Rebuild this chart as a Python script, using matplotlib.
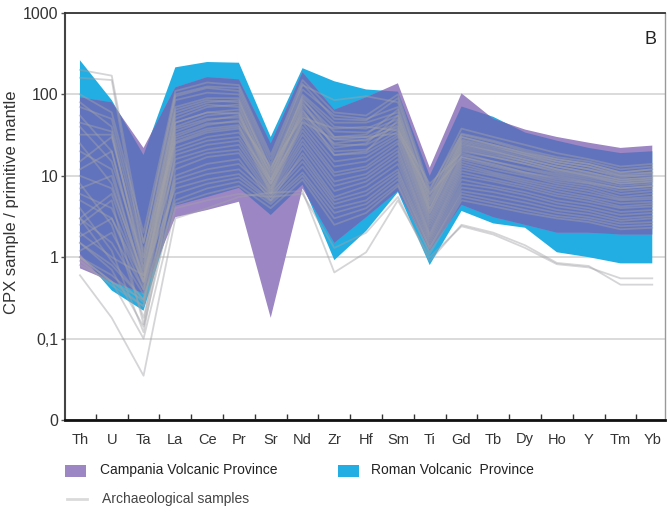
import matplotlib
matplotlib.use("Agg")
import matplotlib.pyplot as plt
from matplotlib.patches import Rectangle, Polygon
from matplotlib.lines import Line2D
from matplotlib.ticker import FixedLocator, NullFormatter

plt.rcParams["font.family"] = ["Liberation Sans", "DejaVu Sans"]

elements = ["Th", "U", "Ta", "La", "Ce", "Pr", "Sr", "Nd", "Zr", "Hf",
            "Sm", "Ti", "Gd", "Tb", "Dy", "Ho", "Y", "Tm", "Yb"]

# envelopes (CPX / primitive mantle)
cvp_upper = [92, 80, 22, 122, 163, 153, 25, 187, 65, 92,
             137, 12.6, 103, 50, 37, 30, 25.5, 22, 23.5]
cvp_lower = [0.73, 0.5, 0.36, 3.1, 3.8, 4.8, 0.18, 7, 1.5, 3.1,
             6.5, 1.2, 4.4, 3.1, 2.5, 2.0, 2.0, 1.9, 1.9]
rvp_upper = [263, 85, 18, 215, 250, 245, 30, 210, 145, 115,
             108, 10, 71, 53, 34, 27, 22, 19, 20]
rvp_lower = [1.1, 0.39, 0.22, 4.3, 5.5, 7.1, 3.3, 7.8, 0.92, 2.1,
             6.3, 0.8, 3.7, 2.6, 2.3, 1.15, 1.0, 0.84, 0.84]

# archaeological samples, one row per sample
arch_samples = [
    [200, 170, 1.5, 95, 120, 110, 14, 130, 85, 95, 80, 6.5, 38, 30, 24, 19, 16, 13, 14],
    [160, 150, 1.0, 85, 105, 100, 12, 115, 55, 50, 70, 5.5, 33, 27, 21, 17, 15, 12, 13],
    [32, 32, 0.8, 70, 90, 90, 11, 100, 45, 45, 60, 5, 30, 24, 19, 16, 14, 11, 12],
    [55, 20, 0.7, 60, 80, 85, 10, 95, 40, 38, 55, 4.5, 28, 23, 18, 15, 13, 10, 11],
    [20, 12, 0.5, 50, 70, 75, 9, 85, 35, 34, 50, 4, 26, 21, 17, 14, 12, 10, 10],
    [10, 7, 0.6, 45, 60, 65, 8.5, 75, 30, 30, 45, 3.8, 24, 20, 16, 13, 11, 9, 9.5],
    [5, 3, 0.4, 40, 55, 60, 8, 70, 28, 27, 42, 3.5, 22, 18, 15, 12, 10, 8.5, 9],
    [3, 1.5, 0.35, 35, 48, 55, 7.5, 62, 24, 24, 38, 3.2, 20, 17, 14, 11, 9.5, 8, 8.5],
    [1.5, 0.8, 0.3, 30, 42, 48, 7, 55, 20, 21, 35, 3, 18, 15, 12, 10, 8.5, 7, 7.5],
    [80, 40, 1.2, 28, 38, 42, 6.5, 50, 18, 19, 32, 2.8, 17, 14, 11, 9, 8, 6.5, 7],
    [40, 15, 0.9, 25, 34, 38, 6, 45, 15, 17, 30, 2.6, 16, 13, 10.5, 8.5, 7.5, 6, 6.5],
    [12, 20, 0.6, 22, 30, 34, 9, 40, 13, 15, 27, 2.4, 15, 12, 10, 8, 7, 5.5, 6],
    [6, 4, 0.5, 20, 27, 30, 8, 36, 11, 13, 25, 2.2, 14, 11, 9, 7.5, 6.5, 5.2, 5.5],
    [2.5, 5, 0.15, 18, 24, 27, 7, 32, 10, 12, 22, 2, 13, 10.5, 8.5, 7, 6, 5, 5.2],
    [1.2, 2, 0.4, 16, 21, 24, 6.5, 28, 8.5, 10.5, 20, 1.9, 12, 10, 8, 6.5, 5.5, 4.6, 4.8],
    [25, 8, 0.5, 14, 19, 21, 6, 25, 7.5, 9.5, 18, 1.8, 11, 9, 7.5, 6, 5.2, 4.2, 4.5],
    [4, 1.2, 0.12, 12, 17, 19, 5.5, 22, 6.5, 8.5, 16, 1.7, 10, 8.5, 7, 5.6, 4.8, 4, 4.2],
    [1.0, 0.6, 0.28, 10, 14, 16, 5, 19, 5.5, 7.5, 14, 1.6, 9, 7.5, 6.3, 5, 4.4, 3.6, 3.8],
    [8, 2.5, 0.18, 9, 12, 14, 6, 17, 5, 6.5, 12, 1.5, 8, 7, 5.8, 4.6, 4, 3.3, 3.5],
    [3, 0.9, 0.3, 8, 10.5, 12, 5.5, 15, 4.5, 5.8, 11, 1.4, 7.2, 6.3, 5.2, 4.2, 3.7, 3, 3.2],
    [2, 1.0, 0.6, 7, 9, 10.5, 5, 13, 4, 5, 10, 1.3, 6.5, 5.6, 4.7, 3.8, 3.4, 2.8, 3],
    [1.5, 0.7, 0.14, 6, 8, 9.5, 4.8, 11, 3.5, 4.5, 9, 1.3, 6, 5, 4.2, 3.5, 3.1, 2.6, 2.7],
    [1.0, 0.5, 0.3, 5, 7, 8.5, 4.5, 10, 3, 4, 8, 1.2, 5.5, 4.6, 3.8, 3.2, 2.9, 2.4, 2.5],
    [0.9, 0.45, 0.25, 4.5, 6, 7.5, 4, 9, 2.5, 3.5, 7.5, 1.1, 5, 4.2, 3.5, 3, 2.7, 2.2, 2.3],
    [100, 60, 2, 110, 140, 130, 18, 150, 60, 55, 100, 7, 32, 26, 20, 16, 14, 11, 12],
    [70, 50, 1.5, 100, 125, 120, 16, 135, 50, 48, 90, 6, 30, 24, 19, 15, 13, 10.5, 11],
    [15, 30, 1.0, 65, 85, 80, 12, 90, 30, 32, 65, 5, 27, 22, 18, 14, 12, 9.5, 10.5],
    [45, 35, 0.7, 55, 75, 70, 10, 80, 22, 25, 55, 4.5, 25, 20, 16, 13, 11, 9, 9.5],
    [3, 6, 0.45, 45, 60, 58, 9, 65, 18, 20, 48, 4, 23, 19, 15, 12, 10.5, 8.5, 9],
    [7, 10, 0.55, 38, 50, 52, 11, 58, 25, 28, 40, 3.5, 21, 17, 14, 11.5, 10, 8, 8.5],
    [1.8, 3, 0.5, 32, 44, 46, 13, 52, 38, 40, 36, 8, 19, 15, 12.5, 10.5, 9, 7.5, 8],
    [0.8, 0.5, 0.25, 26, 36, 40, 8, 46, 28, 30, 33, 6, 17, 13.5, 11, 9.5, 8.2, 7, 7.5],
    [0.6, 0.18, 0.035, 3.0, 4, 5.5, 6.2, 6.5, 0.65, 1.15, 5, 1.0, 2.4, 1.9, 1.3, 0.82, 0.75, 0.55, 0.55],
    [1.0, 0.5, 0.1, 4, 5, 6, 5.5, 6, 1.3, 2.0, 5.5, 0.9, 2.5, 2.0, 1.4, 0.85, 0.78, 0.46, 0.46],
]

y_ticks = [0.01, 0.1, 1, 10, 100, 1000]
y_tick_labels = ["0", "0,1", "1", "10", "100", "1000"]

purple = "#9c86c3"
cyan = "#22aee3"
overlap = "#6173bd"
grey = "#a2a2a8"

x = list(range(len(elements)))

fig = plt.figure(figsize=(6.68, 5.08), dpi=100)
ax = fig.add_axes([65 / 668, 1 - 420 / 508, 600 / 668, 407 / 508])
ax.set_yscale("log")

ax.grid(True, axis="y", color="#d4d4d4", lw=1.2, zorder=0)
ax.set_axisbelow(True)

# envelopes as closed polygons
rvp_poly = Polygon(list(zip(x, rvp_upper)) + list(zip(x[::-1], rvp_lower[::-1])),
                   closed=True, facecolor=cyan, edgecolor="none", zorder=2)
cvp_poly = Polygon(list(zip(x, cvp_upper)) + list(zip(x[::-1], cvp_lower[::-1])),
                   closed=True, facecolor=purple, edgecolor="none", zorder=3)
both_poly = Polygon(list(zip(x, cvp_upper)) + list(zip(x[::-1], cvp_lower[::-1])),
                    closed=True, facecolor=overlap, edgecolor="none", zorder=4)
ax.add_patch(rvp_poly)
ax.add_patch(cvp_poly)
ax.add_patch(both_poly)
both_poly.set_clip_path(rvp_poly)

for row in arch_samples:
    ax.plot(x, row, color=grey, lw=1.3, alpha=0.45, zorder=5)

ax.set_xlim(-0.47, 18.4)
ax.set_ylim(0.01, 1000)

ax.yaxis.set_major_locator(FixedLocator(y_ticks))
ax.set_yticklabels(y_tick_labels)
ax.yaxis.set_minor_formatter(NullFormatter())
ax.yaxis.set_minor_locator(FixedLocator([]))
ax.tick_params(axis="y", length=3, width=1, color="#555555", labelsize=11.5,
               labelcolor="#333333", pad=1.5)

ax.set_xticks(x)
ax.set_xticklabels(elements)
ax.set_xticks([i + 0.5 for i in x[:-1]], minor=True)
ax.tick_params(axis="x", which="major", length=0, labelsize=10.5,
               labelcolor="#333333", pad=9)
ax.tick_params(axis="x", which="minor", direction="in", length=4, width=1,
               color="#333333")

ax.spines["left"].set_color("#444444")
ax.spines["left"].set_linewidth(1.5)
ax.spines["bottom"].set_color("#111111")
ax.spines["bottom"].set_linewidth(2)
ax.spines["top"].set_color("#333333")
ax.spines["top"].set_linewidth(1.3)
ax.spines["right"].set_color("#999999")
ax.spines["right"].set_linewidth(1)

ax.text(0.985, 0.955, "B", transform=ax.transAxes, ha="right", va="top",
        fontsize=13, color="#222222")


def fy(py):
    return 1 - py / 508


# y label placed in figure pixels so it stays inside the canvas
fig.text(12 / 668, fy(202), "CPX sample / primitive mantle", rotation=90,
         ha="center", va="center", fontsize=12, color="#333333")

# legend drawn by hand below the axes
fig.add_artist(Rectangle((65 / 668, fy(477)), 21 / 668, 12 / 508,
                         transform=fig.transFigure, facecolor=purple,
                         edgecolor="none"))
fig.text(100 / 668, fy(470), "Campania Volcanic Province", fontsize=10,
         va="center", color="#222222")
fig.add_artist(Rectangle((338 / 668, fy(477)), 21 / 668, 12 / 508,
                         transform=fig.transFigure, facecolor=cyan,
                         edgecolor="none"))
fig.text(371 / 668, fy(470), "Roman Volcanic  Province", fontsize=10,
         va="center", color="#222222")
fig.add_artist(Line2D([67 / 668, 87 / 668], [fy(499), fy(499)],
                      transform=fig.transFigure, color="#dadada", lw=2))
fig.text(102 / 668, fy(499), "Archaeological samples", fontsize=10,
         va="center", color="#444444")

fig.savefig("out.png", dpi=100)
